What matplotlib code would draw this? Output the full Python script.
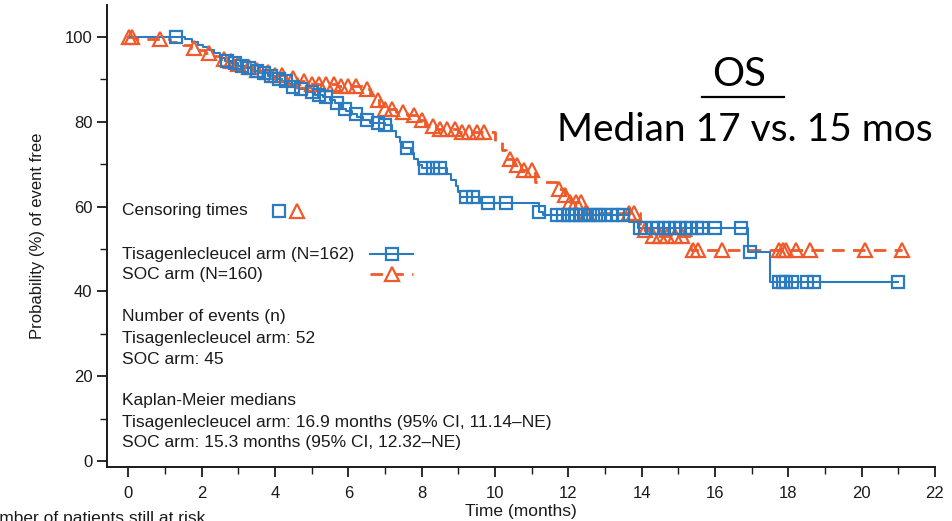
import numpy as np
import matplotlib
matplotlib.use("Agg")
import matplotlib.pyplot as plt
from matplotlib.lines import Line2D

# ---------------- data ----------------
tis_step_t = [0, 1.55, 1.75, 1.9, 2.05, 2.2, 2.35, 2.5, 2.65, 2.8, 3.0, 3.2, 3.4, 3.6, 3.8,
              4.0, 4.2, 4.35, 4.5, 4.65, 4.9, 5.1, 5.3, 5.5, 5.65, 5.8, 5.95, 6.1, 6.25,
              6.4, 6.6, 7.0, 7.2, 7.3, 7.4, 7.5, 7.7, 7.8, 7.9, 8.0, 8.7, 8.8, 8.95, 9.0,
              9.05, 9.6, 11.2, 11.3, 13.65, 13.9, 16.9, 17.5, 21.0]
tis_step_s = [100, 99.4, 98.8, 98.1, 97.5, 96.9, 96.3, 95.0, 94.4, 93.8, 93.2, 92.6, 92.0,
              91.4, 90.7, 90.1, 89.5, 88.8, 88.2, 87.6, 87.0, 86.3, 85.7, 85.0, 84.4, 83.1,
              82.5, 81.8, 81.2, 80.5, 79.8, 79.2, 77.9, 76.5, 75.2, 73.9, 72.5, 71.2, 69.8,
              69.0, 67.6, 66.2, 64.9, 63.5, 62.2, 60.8, 58.8, 58.0, 56.3, 55.0, 49.3, 42.2,
              42.2]
tis_censor = [1.3, 2.7, 2.9, 3.1, 3.3, 3.5, 3.7, 3.9, 4.1, 4.3, 4.5, 4.7, 5.0, 5.2, 5.4,
              5.7, 5.9, 6.2, 6.5, 6.8, 7.0, 7.6, 8.1, 8.3, 8.5, 9.2, 9.4, 9.8, 10.3, 11.2,
              11.7, 11.85, 12.0, 12.1, 12.2, 12.35, 12.45, 12.6, 12.75, 12.85, 13.0, 13.2,
              13.35, 13.5, 13.95, 14.1, 14.3, 14.45, 14.6, 14.75, 14.9, 15.05, 15.2, 15.35,
              15.5, 15.65, 16.0, 16.7, 16.95, 17.75, 17.85, 17.95, 18.1, 18.5, 18.7, 21.0]

soc_step_t = [0, 0.2, 1.15, 1.5, 1.7, 1.9, 2.1, 2.3, 2.5, 2.7, 2.9, 3.1, 3.4, 3.7, 4.0,
              4.3, 4.6, 5.0, 5.7, 6.4, 6.6, 6.75, 6.85, 7.0, 7.3, 7.6, 7.9, 8.1, 8.4, 9.0,
              10.0, 10.2, 10.3, 10.5, 10.7, 11.1, 11.7, 11.9, 12.05, 12.45, 13.95, 14.3,
              15.35, 21.1]
soc_step_s = [100, 99.4, 98.7, 98.1, 97.4, 96.8, 96.1, 95.5, 94.8, 94.2, 93.5, 92.9, 92.2,
              91.6, 90.9, 90.3, 89.6, 88.9, 88.3, 87.6, 86.3, 85.0, 83.7, 83.0, 82.3, 81.6,
              80.3, 79.0, 78.3, 77.6, 75.5, 73.4, 71.3, 69.9, 68.5, 65.8, 64.2, 62.6, 61.0,
              58.5, 54.5, 53.0, 49.8, 49.8]
soc_censor = [0.02, 0.1, 0.87, 1.78, 2.2, 2.6, 2.8, 3.0, 3.3, 3.5, 3.8, 4.0, 4.2, 4.5, 4.8,
              5.0, 5.2, 5.4, 5.6, 5.8, 6.0, 6.2, 6.5, 6.8, 7.0, 7.2, 7.5, 7.8, 8.0, 8.3,
              8.5, 8.7, 8.9, 9.1, 9.3, 9.5, 9.7, 10.4, 10.6, 10.8, 11.0, 11.75, 11.9, 12.05,
              12.2, 12.35, 12.5, 13.65, 13.8, 14.1, 14.3, 14.5, 14.7, 14.9, 15.1, 15.4,
              15.55, 16.2, 17.75, 17.85, 17.95, 18.2, 18.6, 20.1, 21.1]

x_ticks = list(range(0, 23, 2))
y_ticks = [0, 20, 40, 60, 80, 100]

BLUE = "#2B7BC0"
ORANGE = "#EF5A2B"
TXT = "#1a1a1a"

plt.rcParams['font.family'] = ['Liberation Sans', 'DejaVu Sans']

fig = plt.figure(figsize=(9.53, 5.21), dpi=100)
W, H = 953, 521
ax = fig.add_axes([107 / W, 54 / H, (935 - 107) / W, (516 - 54) / H])


def step_value(ts, ss, t):
    idx = np.searchsorted(np.asarray(ts), t, side='right') - 1
    return np.asarray(ss)[idx]


ax.step(tis_step_t, tis_step_s, where='post', color=BLUE, lw=1.5, zorder=3)
ax.step(soc_step_t, soc_step_s, where='post', color=ORANGE, lw=2,
        linestyle=(0, (4.5, 3)), zorder=2)

tc = np.array(tis_censor)
ax.plot(tc, step_value(tis_step_t, tis_step_s, tc), ls='none', marker='s', ms=8.5,
        mfc='none', mec=BLUE, mew=1.6, zorder=4)
sc = np.array(soc_censor)
ax.plot(sc, step_value(soc_step_t, soc_step_s, sc), ls='none', marker='^', ms=9.5,
        mfc='none', mec=ORANGE, mew=1.6, zorder=3)

ax.set_xlim(-0.58, 22)
ax.set_ylim(-1.4, 107.5)
ax.set_xticks(x_ticks)
ax.set_xticks(range(0, 23), minor=True)
ax.set_yticks(y_ticks)
ax.set_yticks(range(10, 100, 20), minor=True)
ax.tick_params(axis='both', which='both', direction='out', colors=TXT)
ax.tick_params(axis='both', which='major', length=7, width=1.3, labelsize=12)
ax.tick_params(axis='x', which='major', pad=7)
ax.tick_params(axis='both', which='minor', length=5, width=1.0)
ax.spines['top'].set_visible(False)
ax.spines['right'].set_visible(False)
for s in ('left', 'bottom'):
    ax.spines[s].set_linewidth(1.4)
    ax.spines[s].set_color(TXT)
ax.set_xlabel('Time (months)', fontsize=12.5, color=TXT, labelpad=2)
ax.set_ylabel('Probability (%) of event free', fontsize=12, color=TXT, labelpad=14)


def ftext(px, py, s, **kw):
    fig.text(px / W, 1 - py / H, s, va='center', ha='left', fontsize=12.5, color=TXT, **kw)


ftext(122, 211, 'Censoring times')
ftext(122, 254, 'Tisagenlecleucel arm (N=162)')
ftext(122, 274, 'SOC arm (N=160)')
ftext(122, 317, 'Number of events (n)')
ftext(122, 338, 'Tisagenlecleucel arm: 52')
ftext(122, 359, 'SOC arm: 45')
ftext(122, 401, 'Kaplan-Meier medians')
ftext(122, 422, 'Tisagenlecleucel arm: 16.9 months (95% CI, 11.14\u2013NE)')
ftext(122, 443, 'SOC arm: 15.3 months (95% CI, 12.32\u2013NE)')

# legend symbols
fig.add_artist(Line2D([279 / W], [1 - 211 / H], transform=fig.transFigure, ls='none',
                      marker='s', ms=8.5, mfc='none', mec=BLUE, mew=1.6))
fig.add_artist(Line2D([297 / W], [1 - 211 / H], transform=fig.transFigure, ls='none',
                      marker='^', ms=9.5, mfc='none', mec=ORANGE, mew=1.6))
fig.add_artist(Line2D([370 / W, 413 / W], [1 - 254 / H] * 2, transform=fig.transFigure,
                      color=BLUE, lw=1.5))
fig.add_artist(Line2D([392 / W], [1 - 254 / H], transform=fig.transFigure, ls='none',
                      marker='s', ms=8.5, mfc='none', mec=BLUE, mew=1.6))
fig.add_artist(Line2D([370 / W, 413 / W], [1 - 274 / H] * 2, transform=fig.transFigure,
                      color=ORANGE, lw=2, linestyle=(0, (4.5, 3))))
fig.add_artist(Line2D([392 / W], [1 - 274 / H], transform=fig.transFigure, ls='none',
                      marker='^', ms=9.5, mfc='white', mec=ORANGE, mew=1.6))

# title block
fig.text(739 / W, 1 - 74 / H, 'OS', ha='center', va='center', fontsize=29,
         family=['Lato', 'DejaVu Sans'], color='black')
fig.add_artist(Line2D([702 / W, 784 / W], [1 - 97 / H] * 2, transform=fig.transFigure,
                      color='black', lw=1.6))
fig.text(745 / W, 1 - 130 / H, 'Median 17 vs. 15 mos', ha='center', va='center',
         fontsize=28, family=['Lato', 'DejaVu Sans'], color='black')

# cut-off at-risk caption
fig.text(205 / W, 1 - 518 / H, 'Number of patients still at risk', ha='right',
         va='center', fontsize=12.5, color=TXT)

fig.savefig('out.png', dpi=100)
